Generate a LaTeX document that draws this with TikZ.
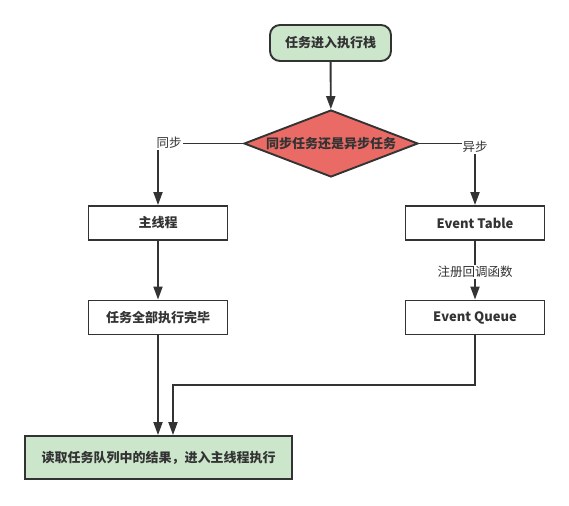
\documentclass[tikz,border=0pt]{standalone}
\usepackage{fontspec}
\setmainfont{Noto Sans CJK SC}
\usetikzlibrary{arrows.meta,shapes.geometric}
\definecolor{edge}{HTML}{333333}
\definecolor{okfill}{HTML}{CCE6CC}
\definecolor{askfill}{HTML}{EA6B66}
\begin{document}
\begin{tikzpicture}[x=1pt,y=-1pt,
  every node/.style={font=\fontsize{13}{15}\selectfont, text=edge},
  boxstyle/.style={draw=edge, line width=1.9pt, fill=white, minimum width=139pt, minimum height=34pt, inner sep=0pt, font=\fontsize{13}{15}\selectfont\bfseries},
  termstyle/.style={boxstyle, fill=okfill, rounded corners=10pt, minimum width=121pt, minimum height=36pt},
  deciding/.style={draw=edge, line width=1.9pt, fill=askfill, diamond, aspect=2.6, minimum width=174pt, minimum height=67pt, inner sep=0pt, font=\fontsize{13}{15}\selectfont\bfseries},
  flow/.style={draw=edge, line width=1.9pt, -{Triangle[width=9pt,length=13pt]}},
  tag/.style={fill=white, inner sep=1pt, font=\fontsize{12.5}{14}\selectfont}
]
\useasboundingbox (0,0) rectangle (569,505);

\node[termstyle] (start) at (330.5,43) {任务进入执行栈};
\node[deciding] (ask) at (331,143.5) {同步任务还是异步任务};
\node[boxstyle] (main) at (158,223) {主线程};
\node[boxstyle] (done) at (158,317.5) {任务全部执行完毕};
\node[boxstyle] (table) at (475,223) {Event Table};
\node[boxstyle] (queue) at (475,317.5) {Event Queue};
\node[boxstyle, fill=okfill, minimum width=267pt, minimum height=43pt] (read) at (158.5,457.5) {读取任务队列中的结果，进入主线程执行};

\coordinate (lturn) at (158,143.5);
\coordinate (rturn) at (475,143.5);
\coordinate (qdown) at (475,385);
\coordinate (qleft) at (173,385);

\draw[flow] (start) -- (ask);
\draw[flow] (ask.west) -- (lturn) -- (main.north);
\draw[flow] (ask.east) -- (rturn) -- (table.north);
\draw[flow] (main) -- (done);
\draw[flow] (table) -- (queue);
\draw[flow] (done.south) -- (done.south |- read.north);
\draw[flow] (queue.south) -- (qdown) -- (qleft) -- (qleft |- read.north);

\node[tag] at (169,143) {同步};
\node[tag] at (475,147) {异步};
\node[tag] at (475,272) {注册回调函数};
\end{tikzpicture}
\end{document}
